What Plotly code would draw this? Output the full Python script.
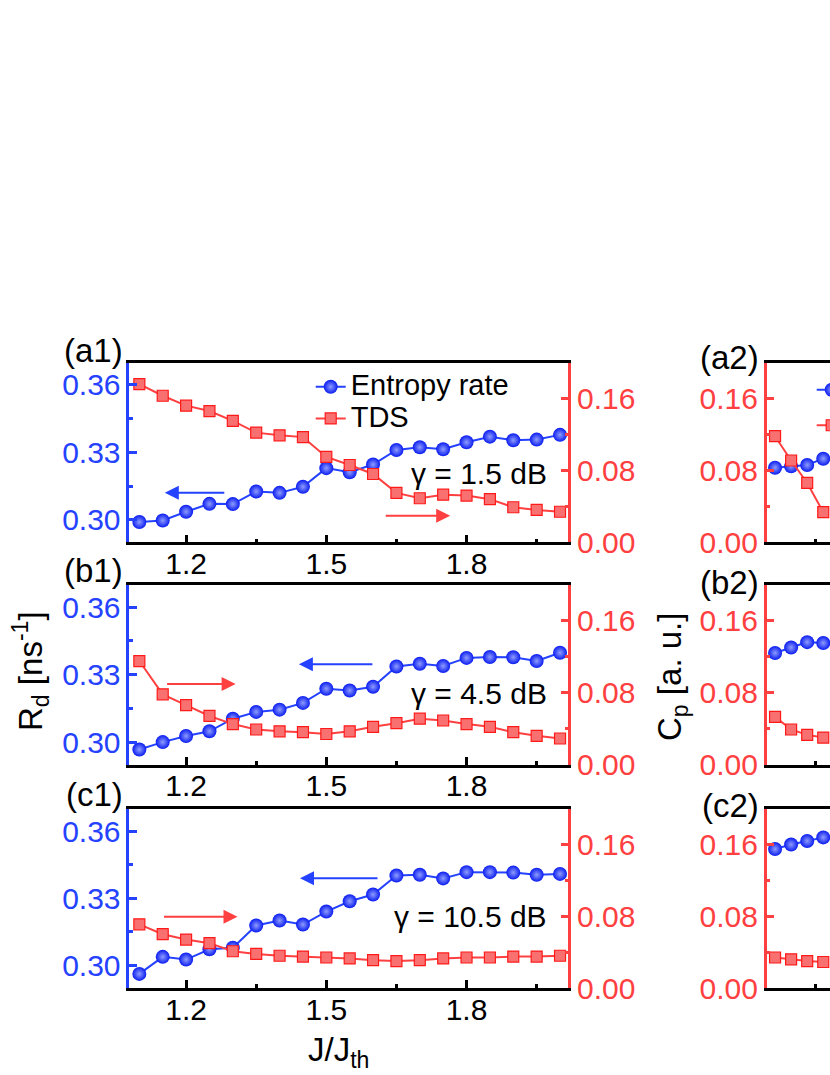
import plotly.graph_objects as go

# J/Jth grid shared by the left column panels
j_ratio = [1.10, 1.15, 1.20, 1.25, 1.30, 1.35, 1.40, 1.45, 1.50, 1.55,
           1.60, 1.65, 1.70, 1.75, 1.80, 1.85, 1.90, 1.95, 2.00]

# (a1) gamma = 1.5 dB
entropy_a1 = [0.2990, 0.2997, 0.3036, 0.3071, 0.3070, 0.3126, 0.3120, 0.3147, 0.3230, 0.3212,
              0.3246, 0.3311, 0.3323, 0.3314, 0.3345, 0.3370, 0.3354, 0.3357, 0.3378]
tds_a1 = [0.176, 0.163, 0.152, 0.146, 0.135, 0.122, 0.119, 0.117, 0.095, 0.086,
          0.076, 0.055, 0.049, 0.053, 0.052, 0.048, 0.039, 0.036, 0.034]

# (b1) gamma = 4.5 dB
entropy_b1 = [0.2967, 0.3000, 0.3027, 0.3048, 0.3104, 0.3134, 0.3144, 0.3174, 0.3237, 0.3229,
              0.3246, 0.3336, 0.3348, 0.3338, 0.3374, 0.3378, 0.3377, 0.3360, 0.3397]
tds_b1 = [0.115, 0.078, 0.066, 0.054, 0.045, 0.039, 0.037, 0.036, 0.034, 0.037,
          0.042, 0.046, 0.051, 0.049, 0.045, 0.042, 0.036, 0.032, 0.029]

# (c1) gamma = 10.5 dB
entropy_c1 = [0.2963, 0.3039, 0.3027, 0.3073, 0.3080, 0.3179, 0.3201, 0.3183, 0.3241, 0.3287,
              0.3317, 0.3402, 0.3405, 0.3389, 0.3417, 0.3417, 0.3415, 0.3405, 0.3409]
tds_c1 = [0.071, 0.060, 0.054, 0.050, 0.041, 0.038, 0.036, 0.035, 0.034, 0.033,
          0.031, 0.030, 0.031, 0.033, 0.034, 0.034, 0.035, 0.035, 0.036]

# right column, only the first points are inside the picture
j_ratio_right = [1.10, 1.15, 1.20, 1.25]
cp_blue_a2 = [0.083, 0.0845, 0.086, 0.093]
cp_red_a2 = [0.118, 0.091, 0.066, 0.0335]
cp_blue_b2 = [0.124, 0.130, 0.136, 0.135]
cp_red_b2 = [0.053, 0.039, 0.033, 0.030]
cp_blue_c2 = [0.155, 0.160, 0.164, 0.168]
cp_red_c2 = [0.034, 0.032, 0.030, 0.029]

gamma_labels = ["γ = 1.5 dB", "γ = 4.5 dB", "γ = 10.5 dB"]
panel_left = ["(a1)", "(b1)", "(c1)"]
panel_right = ["(a2)", "(b2)", "(c2)"]

W, H = 830, 1075
FONT = "Arial, Liberation Sans, sans-serif"
BLUE = "#2442ff"
BLUE_DARK = "#0a1cf0"
BLUE_LIGHT = "#8e9cff"
RED = "#ff4040"
RED_FILL = "#f87070"
TICK_SIZE = 30


def fx(px):
    return px / W


def fy(py):
    return 1 - py / H


# pixel rows (top, bottom) of each panel row
rows = [(362.5, 542.3), (584.5, 764.6), (808.7, 988.0)]
left_series = [(entropy_a1, tds_a1), (entropy_b1, tds_b1), (entropy_c1, tds_c1)]
right_series = [(cp_blue_a2, cp_red_a2), (cp_blue_b2, cp_red_b2), (cp_blue_c2, cp_red_c2)]

fig = go.Figure()
layout = {}

axis_common = dict(showgrid=False, zeroline=False, showline=True, linewidth=2.5,
                   ticks="inside", tickwidth=2.5, ticklen=8)


def ax_key(kind, n):
    return f"{kind}axis" if n == 1 else f"{kind}axis{n}"


def ax_id(kind, n):
    return kind if n == 1 else f"{kind}{n}"


def blue_marker():
    return dict(symbol="circle", size=14, color=BLUE_DARK,
                gradient=dict(type="radial", color=BLUE_LIGHT), line=dict(width=0))


def red_marker():
    return dict(symbol="square", size=11, color=RED_FILL, line=dict(width=1.2, color="#ff1a1a"))


for i, (top, bot) in enumerate(rows):
    dom = [fy(bot), fy(top)]
    xl, xr = 2 * i + 1, 2 * i + 2
    yb, yr, yc = 3 * i + 1, 3 * i + 2, 3 * i + 3

    layout[ax_key("x", xl)] = dict(axis_common, domain=[fx(129.3), fx(568.3)], range=[1.0785, 2.0177],
                                   anchor=ax_id("y", yb), linecolor="black", tickcolor="black",
                                   mirror=True, tick0=1.2, dtick=0.3, tickformat=".1f",
                                   ticklabelstandoff=-7,
                                   tickfont=dict(size=TICK_SIZE, family=FONT, color="black"),
                                   minor=dict(ticks="inside", ticklen=4, tickwidth=2.5,
                                              tick0=1.2, dtick=0.15, tickcolor="black"))
    layout[ax_key("y", yb)] = dict(axis_common, domain=dom, range=[0.29, 0.37], anchor=ax_id("x", xl),
                                   side="left", linecolor=BLUE, tickcolor=BLUE,
                                   tick0=0.30, dtick=0.03, tickformat=".2f",
                                   tickfont=dict(size=TICK_SIZE, family=FONT, color=BLUE),
                                   minor=dict(ticks="inside", ticklen=4, tickwidth=2.5,
                                              tick0=0.30, dtick=0.015, tickcolor=BLUE))
    layout[ax_key("y", yr)] = dict(axis_common, range=[0, 0.2], anchor=ax_id("x", xl),
                                   overlaying=ax_id("y", yb), side="right", linecolor=RED, tickcolor=RED,
                                   tick0=0, dtick=0.08, tickformat=".2f",
                                   tickfont=dict(size=TICK_SIZE, family=FONT, color=RED),
                                   minor=dict(ticks="inside", ticklen=4, tickwidth=2.5,
                                              tick0=0, dtick=0.04, tickcolor=RED))
    layout[ax_key("x", xr)] = dict(axis_common, domain=[fx(766.7), 1.0], range=[1.074, 1.271],
                                   anchor=ax_id("y", yc), linecolor="black", tickcolor="black",
                                   mirror=True, tickmode="array", tickvals=[1.225], ticklen=4,
                                   showticklabels=False)
    layout[ax_key("y", yc)] = dict(axis_common, domain=dom, range=[0, 0.2], anchor=ax_id("x", xr),
                                   side="left", linecolor=RED, tickcolor=RED,
                                   tick0=0, dtick=0.08, tickformat=".2f",
                                   tickfont=dict(size=TICK_SIZE, family=FONT, color=RED),
                                   minor=dict(ticks="inside", ticklen=4, tickwidth=2.5,
                                              tick0=0, dtick=0.04, tickcolor=RED))

    ent, tds = left_series[i]
    fig.add_trace(go.Scatter(
        x=j_ratio, y=ent, mode="lines+markers", name="Entropy rate",
        line=dict(color=BLUE, width=2), marker=blue_marker(),
        xaxis=ax_id("x", xl), yaxis=ax_id("y", yb),
        showlegend=(i == 0), legend="legend"
    ))
    fig.add_trace(go.Scatter(
        x=j_ratio, y=tds, mode="lines+markers", name="TDS",
        line=dict(color=RED, width=2), marker=red_marker(),
        xaxis=ax_id("x", xl), yaxis=ax_id("y", yr),
        showlegend=(i == 0), legend="legend"
    ))

    cb, cr = right_series[i]
    fig.add_trace(go.Scatter(
        x=j_ratio_right, y=cb, mode="lines+markers", name="Entropy rate",
        line=dict(color=BLUE, width=2), marker=blue_marker(),
        xaxis=ax_id("x", xr), yaxis=ax_id("y", yc),
        showlegend=(i == 0), legend="legend2"
    ))
    fig.add_trace(go.Scatter(
        x=j_ratio_right, y=cr, mode="lines+markers", name="TDS",
        line=dict(color=RED, width=2), marker=red_marker(),
        xaxis=ax_id("x", xr), yaxis=ax_id("y", yc),
        showlegend=(i == 0), legend="legend2"
    ))

annotations = []
# panel labels
for lab, cy in zip(panel_left, [350, 570, 794]):
    annotations.append(dict(x=fx(125), y=fy(cy), xref="paper", yref="paper", text=lab,
                            showarrow=False, xanchor="right", yanchor="middle",
                            font=dict(size=33, family=FONT, color="black")))
for lab, cy in zip(panel_right, [358, 582, 805]):
    annotations.append(dict(x=fx(761), y=fy(cy), xref="paper", yref="paper", text=lab,
                            showarrow=False, xanchor="right", yanchor="middle",
                            font=dict(size=33, family=FONT, color="black")))
# gamma labels
for lab, cy in zip(gamma_labels, [474, 693, 916]):
    annotations.append(dict(x=fx(549), y=fy(cy), xref="paper", yref="paper", text=lab,
                            showarrow=False, xanchor="right", yanchor="middle",
                            font=dict(size=30, family=FONT, color="black")))
# arrows: (head x, head y, tail offset, colour)
arrows = [(164.8, 492.7, 61, BLUE), (450.2, 515.7, -66, RED),
          (298.9, 664.3, 75, BLUE), (235.6, 684.0, -70, RED),
          (300.0, 878.3, 79, BLUE), (237.5, 916.7, -75, RED)]
for hx, hy, dx, col in arrows:
    annotations.append(dict(x=fx(hx), y=fy(hy), xref="paper", yref="paper", text="",
                            showarrow=True, ax=dx, ay=0, arrowhead=2, arrowsize=1.4,
                            arrowwidth=2, arrowcolor=col))
# axis titles
annotations.append(dict(x=fx(30), y=fy(671), xref="paper", yref="paper",
                        text="R<sub>d</sub> [ns<sup>-1</sup>]", textangle=-90, showarrow=False,
                        xanchor="center", yanchor="middle",
                        font=dict(size=33, family=FONT, color="black")))
annotations.append(dict(x=fx(672), y=fy(677), xref="paper", yref="paper",
                        text="C<sub>p</sub> [a. u.]", textangle=-90, showarrow=False,
                        xanchor="center", yanchor="middle",
                        font=dict(size=33, family=FONT, color="black")))
annotations.append(dict(x=fx(338), y=fy(1052), xref="paper", yref="paper",
                        text="J/J<sub>th</sub>", showarrow=False,
                        xanchor="center", yanchor="middle",
                        font=dict(size=33, family=FONT, color="black")))

fig.update_layout(
    **layout,
    width=W, height=H,
    margin=dict(l=0, r=0, t=0, b=0, autoexpand=False),
    plot_bgcolor="white", paper_bgcolor="white",
    font=dict(family=FONT, color="black"),
    annotations=annotations,
    legend=dict(x=fx(310.7), y=fy(366), xanchor="left", yanchor="top",
                bgcolor="rgba(0,0,0,0)", font=dict(size=22, family=FONT, color="black")),
    legend2=dict(x=fx(811.7), y=fy(367), xanchor="left", yanchor="top",
                 bgcolor="rgba(0,0,0,0)", font=dict(size=25, family=FONT, color="black")),
)

# bigger legend text without widening the row spacing
fig.data[0].name = '<span style="font-size:29px">Entropy rate</span>'
fig.data[1].name = '<span style="font-size:29px">TDS</span>'

fig.write_html("out.html", config={"displayModeBar": False},
               post_script="document.body.style.margin='0';")
